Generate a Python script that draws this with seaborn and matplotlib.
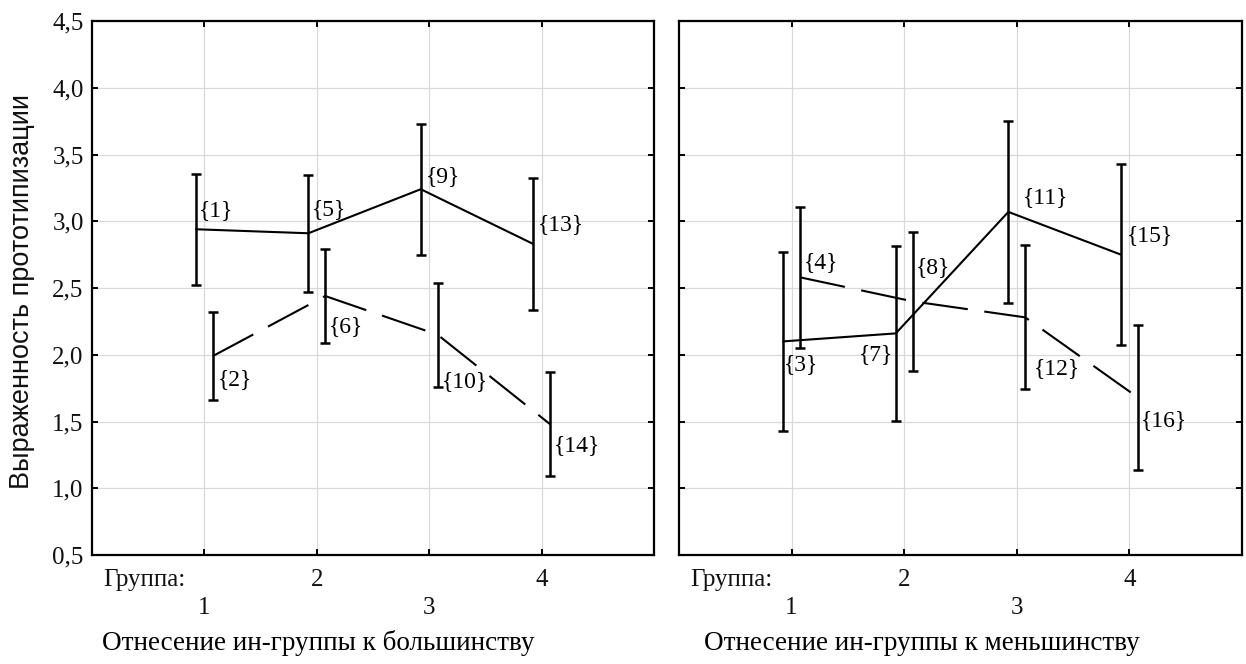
import numpy as np
import pandas as pd
import matplotlib
matplotlib.use("Agg")
import matplotlib.pyplot as plt
import seaborn as sns

# ---------------- data ----------------
groups = [1, 2, 3, 4]

maj_solid_ids = [1, 5, 9, 13]
maj_solid_mean = [2.94, 2.91, 3.24, 2.83]
maj_solid_half = [0.415, 0.437, 0.49, 0.497]

maj_dash_ids = [2, 6, 10, 14]
maj_dash_mean = [1.99, 2.44, 2.15, 1.48]
maj_dash_half = [0.33, 0.35, 0.39, 0.39]

min_solid_ids = [3, 7, 11, 15]
min_solid_mean = [2.10, 2.16, 3.07, 2.75]
min_solid_half = [0.67, 0.655, 0.68, 0.68]

min_dash_ids = [4, 8, 12, 16]
min_dash_mean = [2.58, 2.40, 2.28, 1.68]
min_dash_half = [0.53, 0.52, 0.54, 0.545]

yticks = [0.5, 1.0, 1.5, 2.0, 2.5, 3.0, 3.5, 4.0, 4.5]
ytick_labels = ["0,5", "1,0", "1,5", "2,0", "2,5", "3,0", "3,5", "4,0", "4,5"]
xtick_labels = ["\n1", "2", "\n3", "4"]
group_word = "Группа:"
ylabel_text = "Выраженность прототипизации"
panel_titles = ["Отнесение ин-группы к большинству",
                "Отнесение ин-группы к меньшинству"]

# ---------------- style ----------------
sns.set_theme(style="white")
plt.rcParams["font.family"] = ["Liberation Serif", "DejaVu Serif"]

SERIF = ["Liberation Serif", "DejaVu Serif"]
SANS = ["Liberation Sans", "DejaVu Sans"]
OFFSET = 0.075  # horizontal shift of the two series around each group
TICK_FS = 18
LBL_FS = 17

# label offsets in pixels (dx right, dy up) and alignment
maj_solid_off = [(3, 19, "left"), (3, 24, "left"), (5, 13, "left"), (5, 19, "left")]
maj_dash_off = [(5, -23, "left"), (4, -31, "left"), (4, -47, "left"), (4, -21, "left")]
min_solid_off = [(1, -23, "left"), (-3, -21, "right"), (15, 14, "left"), (6, 19, "left")]
min_dash_off = [(4, 15, "left"), (3, 34, "left"), (9, -51, "left"), (3, -23, "left")]

W, H = 1246, 664
fig = plt.figure(figsize=(W / 100, H / 100), dpi=100)
ax_l = fig.add_axes([92 / W, 1 - 555 / H, 562 / W, 534 / H])
ax_r = fig.add_axes([679 / W, 1 - 555 / H, 563 / W, 534 / H])

panels = [
    (ax_l, (maj_solid_ids, maj_solid_mean, maj_solid_half, maj_solid_off),
           (maj_dash_ids, maj_dash_mean, maj_dash_half, maj_dash_off)),
    (ax_r, (min_solid_ids, min_solid_mean, min_solid_half, min_solid_off),
           (min_dash_ids, min_dash_mean, min_dash_half, min_dash_off)),
]

for i, (ax, solid, dash) in enumerate(panels):
    rows = []
    for name, ser, sh in (("solid", solid, -OFFSET), ("dashed", dash, OFFSET)):
        ids, mean, half, _ = ser
        for g, m, h, n in zip(groups, mean, half, ids):
            rows.append(dict(x=g + sh, y=m, half=h, series=name, id=n))
    df = pd.DataFrame(rows)

    sns.lineplot(data=df, x="x", y="y", style="series",
                 dashes={"solid": "", "dashed": (22, 8)},
                 color="black", linewidth=1.5, estimator=None, sort=False,
                 legend=False, ax=ax, zorder=3)
    ax.errorbar(df["x"], df["y"], yerr=df["half"], fmt="none",
                ecolor="black", elinewidth=1.8, capsize=3.6, capthick=1.8,
                zorder=4)

    for name, ser in (("solid", solid), ("dashed", dash)):
        ids, mean, half, offs = ser
        sub = df[df["series"] == name]
        for (_, r), (dx, dy, ha) in zip(sub.iterrows(), offs):
            ax.annotate("{" + str(int(r["id"])) + "}", xy=(r["x"], r["y"]),
                        xytext=(dx, dy), textcoords="offset pixels",
                        ha=ha, va="center", fontsize=LBL_FS, family=SERIF,
                        color="black", zorder=5)

    ax.set_xlim(0, 5)
    ax.set_ylim(0.5, 4.5)
    ax.set_xticks(groups)
    ax.set_yticks(yticks)
    xl = ax.set_xticklabels(xtick_labels, family=SERIF, fontsize=TICK_FS)
    for t in xl:
        t.set_linespacing(1.36)
    if i == 0:
        ax.set_yticklabels(ytick_labels, family=SERIF, fontsize=TICK_FS)
    else:
        ax.set_yticklabels([])
    ax.set_xlabel("")
    ax.set_ylabel("")
    ax.grid(True, color="#d9d9d9", linewidth=0.9)
    ax.set_axisbelow(True)
    ax.tick_params(direction="in", length=4, width=1.4, colors="black",
                   top=True, right=True, bottom=True, left=True,
                   pad=6, labelcolor="#111111")
    ax.tick_params(axis="x", pad=10)
    for sp in ax.spines.values():
        sp.set_visible(True)
        sp.set_color("black")
        sp.set_linewidth(1.6)

    ax.annotate(group_word, xy=(0, 0), xycoords="axes fraction",
                xytext=(11, -25), textcoords="offset pixels",
                ha="left", va="center", fontsize=TICK_FS, family=SERIF,
                color="#111111")

fig.text(318 / W, 1 - 643 / H, panel_titles[0], ha="center", va="center",
         fontsize=19.5, family=SERIF, color="black")
fig.text(922 / W, 1 - 643 / H, panel_titles[1], ha="center", va="center",
         fontsize=19.5, family=SERIF, color="black")
fig.text(22 / W, 1 - 292 / H, ylabel_text, rotation=90, ha="center",
         va="center", fontsize=19.5, family=SANS, color="#111111")

fig.savefig("out.png", dpi=100)
